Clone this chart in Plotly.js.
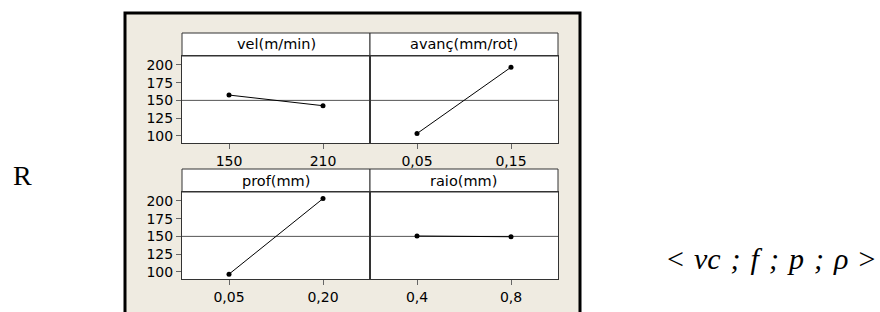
<!DOCTYPE html>
<html>
<head>
<meta charset="utf-8">
<script src="https://cdn.plot.ly/plotly-3.0.1.min.js"></script>
<style>html,body{margin:0;padding:0;background:#fff;}#chart{width:880px;height:312px;}</style>
</head>
<body>
<div id="chart"></div>
<script>
// ---- data ----
const panelTitles = ["vel(m/min)", "avanç(mm/rot)", "prof(mm)", "raio(mm)"];
const velLevels = ["150", "210"];
const velMeans = [157.5, 142.5];
const avLevels = ["0,05", "0,15"];
const avMeans = [103.3, 196.7];
const profLevels = ["0,05", "0,20"];
const profMeans = [96.8, 203.2];
const raioLevels = ["0,4", "0,8"];
const raioMeans = [150.5, 149.5];
const grandMean = 150;
const yTicks = [100, 125, 150, 175, 200];
const responseLabel = "R";
const sp = " \u200A";
const factorLabel = "&lt;" + sp + "<i>vc</i>" + sp + "<i>;</i>" + sp + "<i>f</i>" + sp + "<i>;</i>" + sp + "<i>p</i>" + sp + "<i>;</i>" + sp + "<i>ρ</i>" + sp + "&gt;";

// ---- layout helpers ----
const W = 880, H = 312;
const px = v => v / W;
const py = v => 1 - v / H;
const cols = [[182, 370], [370, 558]];
const rows = [{hdr: [33, 56], plot: [56, 143]}, {hdr: [169, 192], plot: [192, 279]}];
const tickFont = {family: "DejaVu Sans, Verdana, sans-serif", size: 14, color: "#000"};

const levels = [velLevels, avLevels, profLevels, raioLevels];
const means = [velMeans, avMeans, profMeans, raioMeans];

const data = [];
const layout = {
  width: W, height: H,
  margin: {l: 0, r: 0, t: 0, b: 0},
  paper_bgcolor: "#ffffff",
  plot_bgcolor: "#ffffff",
  showlegend: false,
  shapes: [],
  annotations: []
};

// outer beige box
layout.shapes.push({type: "rect", xref: "paper", yref: "paper",
  x0: px(125), x1: px(580), y0: py(330), y1: py(13),
  fillcolor: "#EFEBE1", line: {color: "#000", width: 3}, layer: "below"});

const refLines = [];
for (let i = 0; i < 4; i++) {
  const r = rows[Math.floor(i / 2)], c = cols[i % 2];
  const n = i + 1;
  const xa = n === 1 ? "x" : "x" + n, ya = n === 1 ? "y" : "y" + n;
  const xk = n === 1 ? "xaxis" : "xaxis" + n, yk = n === 1 ? "yaxis" : "yaxis" + n;
  data.push({x: levels[i], y: means[i], xaxis: xa, yaxis: ya, type: "scatter",
    mode: "lines+markers", line: {color: "#000", width: 1},
    marker: {color: "#000", size: 5}, hoverinfo: "skip", cliponaxis: false});
  layout[xk] = {domain: [px(c[0]), px(c[1])], anchor: ya, type: "category",
    range: [-0.5, 1.5], showgrid: false, zeroline: false,
    showline: true, mirror: true, linecolor: "#333", linewidth: 1,
    ticks: "outside", ticklen: 5, tickcolor: "#666", tickfont: tickFont};
  layout[yk] = {domain: [py(r.plot[1]), py(r.plot[0])], anchor: xa,
    range: [90, 212.5], tickvals: yTicks, showgrid: false, zeroline: false,
    showline: true, mirror: true, linecolor: "#333", linewidth: 1,
    ticks: (i % 2 === 0) ? "outside" : "", ticklen: 5, tickcolor: "#666",
    showticklabels: i % 2 === 0, tickfont: tickFont};
  // white plot area (beneath the reference line)
  layout.shapes.push({type: "rect", xref: xa + " domain", yref: ya + " domain",
    x0: 0, x1: 1, y0: 0, y1: 1, fillcolor: "#ffffff", line: {width: 0}, layer: "below"});
  // mean reference line
  refLines.push({type: "line", xref: xa + " domain", yref: ya,
    x0: 0, x1: 1, y0: grandMean, y1: grandMean,
    line: {color: "#555", width: 1}, layer: "below"});
  // header box
  layout.shapes.push({type: "rect", xref: "paper", yref: "paper",
    x0: px(c[0]), x1: px(c[1]), y0: py(r.hdr[1]), y1: py(r.hdr[0]),
    fillcolor: "#ffffff", line: {color: "#333", width: 1}, layer: "below"});
  layout.annotations.push({xref: "paper", yref: "paper",
    x: px((c[0] + c[1]) / 2), y: py((r.hdr[0] + r.hdr[1]) / 2),
    text: panelTitles[i], showarrow: false, xanchor: "center", yanchor: "middle",
    font: {family: "DejaVu Sans, Verdana, sans-serif", size: 14.5, color: "#000"}});
}
layout.shapes.push(...refLines);

layout.annotations.push({xref: "paper", yref: "paper", x: px(22), y: py(175),
  text: responseLabel, showarrow: false, xanchor: "center", yanchor: "middle",
  font: {family: "Liberation Serif, Times New Roman, serif", size: 28, color: "#000"}});
layout.annotations.push({xref: "paper", yref: "paper", x: px(877), y: py(258),
  text: factorLabel, showarrow: false, xanchor: "right", yanchor: "middle",
  font: {family: "Liberation Serif, Times New Roman, serif", size: 30, color: "#000"}});

Plotly.newPlot("chart", data, layout, {staticPlot: true, displayModeBar: false});
</script>
</body>
</html>
